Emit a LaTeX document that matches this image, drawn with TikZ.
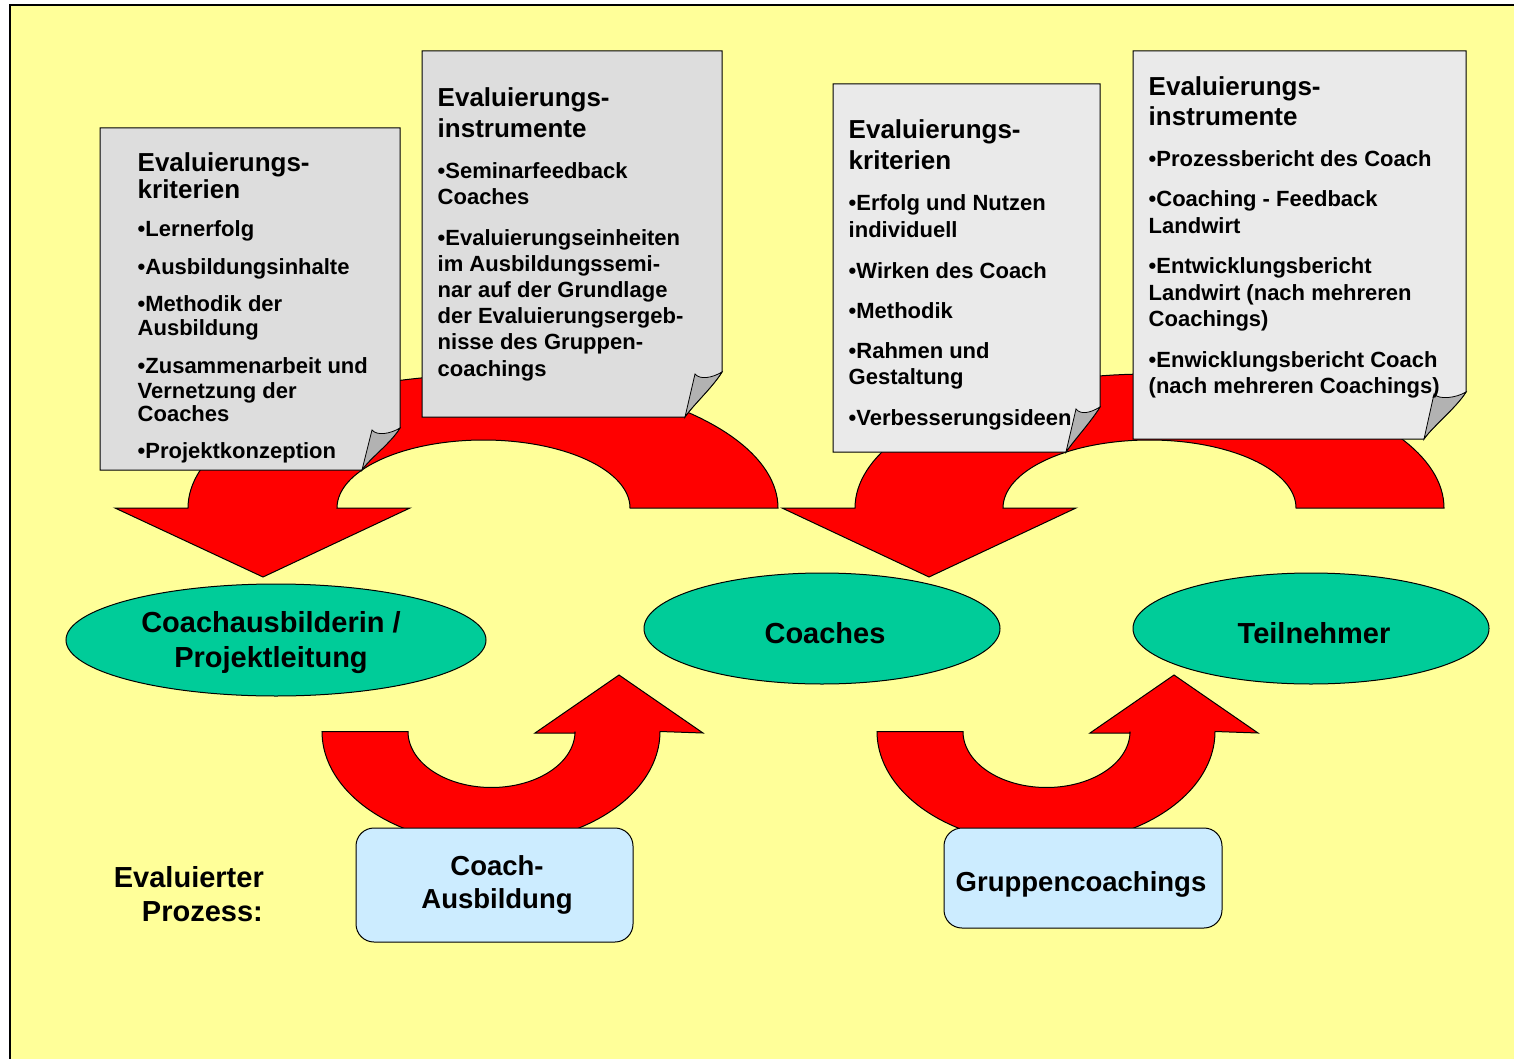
\documentclass[tikz,border=0pt]{standalone}
\usepackage{fontspec}
\setmainfont{Liberation Sans}
\usetikzlibrary{shapes.geometric}
\definecolor{bgyellow}{HTML}{FFFF99}
\definecolor{docgrayA}{HTML}{DDDDDD}
\definecolor{docgrayB}{HTML}{EAEAEA}
\definecolor{curlgray}{HTML}{B2B2B2}
\definecolor{ellgreen}{HTML}{00CC99}
\definecolor{boxblue}{HTML}{CCECFF}
\tikzset{
  redarrow/.style={fill=red, draw=black, line width=1pt, line join=miter},
  docpage/.style={draw=black, line width=1pt},
  curlpart/.style={fill=curlgray, draw=black, line width=0.8pt},
  ellnode/.style={ellipse, draw=black, line width=1pt, fill=ellgreen, inner sep=0pt},
  elltext/.style={font=\bfseries\fontsize{29}{35}\selectfont, inner sep=0pt, align=center},
  pbox/.style={draw=black, line width=1pt, fill=boxblue, rounded corners=18pt,
     font=\bfseries\fontsize{27.5}{33}\selectfont, align=center, inner sep=0pt},
  dtitle/.style={font=\bfseries\fontsize{26}{31}\selectfont, anchor=base west, inner sep=0pt},
  dbul/.style={font=\bfseries\fontsize{22}{26}\selectfont, anchor=base west, inner sep=0pt},
  proctext/.style={font=\bfseries\fontsize{29}{34}\selectfont, anchor=base east, inner sep=0pt}
}
% #1 x1, #2 y1, #3 x2, #4 y2, #5 fold dx, #6 fold dy, #7 colour
\newcommand{\docsheet}[7]{%
  \path[docpage, fill=#7] (#1,#2) -- (#3,#2) -- ({#3},{#4-#6})
     .. controls ({#3-10},{#4-#6+16}) and ({#3-#5+8},{#4-12}) .. ({#3-#5},#4)
     -- (#1,#4) -- cycle;
  \path[curlpart] ({#3-#5+10},{#4-#6+2})
     .. controls ({#3-#5+15},{#4-#6+8}) and ({#3-10},{#4-#6+6}) .. ({#3},{#4-#6})
     .. controls ({#3-10},{#4-#6+16}) and ({#3-#5+8},{#4-12}) .. ({#3-#5},#4) -- cycle;
}
\begin{document}
\begin{tikzpicture}[x=1pt,y=-1pt]
\useasboundingbox (0,0) rectangle (1514,1059);
% background
\fill[bgyellow] (10,5) rectangle (1530,1075);
\draw[line width=2pt] (10,1075) -- (10,5) -- (1530,5);

% upper curved arrows
\draw[redarrow] plot[domain=0:180,samples=90] ({483+295*cos(\x)},{508-133*sin(\x)})
  -- (115,508) -- (263,577) -- (410,508)
  -- plot[domain=180:0,samples=90] ({483.5+146.5*cos(\x)},{508-68*sin(\x)}) -- cycle;
\draw[redarrow] plot[domain=0:180,samples=90] ({1149.5+294.5*cos(\x)},{508-134*sin(\x)})
  -- (782,508) -- (929,577) -- (1076,508)
  -- plot[domain=180:0,samples=90] ({1149.5+146.5*cos(\x)},{508-68*sin(\x)}) -- cycle;

% documents
\docsheet{100}{128}{400}{470}{38}{42}{docgrayA}
\docsheet{422}{51}{722}{417}{37}{45}{docgrayA}
\docsheet{833}{84}{1100}{452}{34}{45}{docgrayB}
\docsheet{1133}{51}{1466}{439}{42}{47}{docgrayB}

% document texts
\foreach \yy/\tt [count=\i] in {171.5/Evaluierungs-, 198.5/kriterien}
  \node[dtitle] (da\i) at (137.5,\yy) {\tt};
\foreach \yy/\tt [count=\i] in {236.3/{•Lernerfolg}, 274/{•Ausbildungsinhalte},
    311.2/{•Methodik der}, 335.5/{Ausbildung}, 373.8/{•Zusammenarbeit und},
    398.5/{Vernetzung der}, 421.5/{Coaches}, 458/{•Projektkonzeption}}
  \node[dbul] (dab\i) at (137.5,\yy) {\tt};

\foreach \yy/\tt [count=\i] in {106.5/Evaluierungs-, 137.5/instrumente}
  \node[dtitle] (db\i) at (437.5,\yy) {\tt};
\foreach \yy/\tt [count=\i] in {178.7/{•Seminarfeedback}, 204.2/{Coaches},
    245.2/{•Evaluierungseinheiten}, 271.5/{im Ausbildungssemi-},
    297.5/{nar auf der Grundlage}, 323.8/{der Evaluierungsergeb-},
    349.8/{nisse des Gruppen-}, 376.5/{coachings}}
  \node[dbul] (dbb\i) at (437.5,\yy) {\tt};

\foreach \yy/\tt [count=\i] in {138.7/Evaluierungs-, 169.5/kriterien}
  \node[dtitle] (dc\i) at (848.5,\yy) {\tt};
\foreach \yy/\tt [count=\i] in {211/{•Erfolg und Nutzen}, 238/{individuell},
    278.3/{•Wirken des Coach}, 318.3/{•Methodik}, 358.3/{•Rahmen und},
    384.5/{Gestaltung}, 425/{•Verbesserungsideen}}
  \node[dbul] (dcb\i) at (848.5,\yy) {\tt};

\foreach \yy/\tt [count=\i] in {96/Evaluierungs-, 126/instrumente}
  \node[dtitle] (dd\i) at (1148.5,\yy) {\tt};
\foreach \yy/\tt [count=\i] in {167/{•Prozessbericht des Coach}, 207/{•Coaching - Feedback},
    233.5/{Landwirt}, 273.5/{•Entwicklungsbericht}, 300/{Landwirt (nach mehreren},
    326.3/{Coachings)}, 367/{•Enwicklungsbericht Coach}, 393.3/{(nach mehreren Coachings)}}
  \node[dbul] (ddb\i) at (1148.5,\yy) {\tt};

% ellipses
\node[ellnode, minimum width=420pt, minimum height=112pt] (e1) at (276,640) {};
\node[ellnode, minimum width=356pt, minimum height=111pt] (e2) at (822,628.5) {};
\node[ellnode, minimum width=356pt, minimum height=111pt] (e3) at (1311,628.5) {};
\node[elltext] (t1) at (271,642.5) {Coachausbilderin /\\Projektleitung};
\node[elltext, anchor=base] (t2) at (825,643) {Coaches};
\node[elltext, anchor=base] (t3) at (1314,643) {Teilnehmer};

% lower curved arrows
\draw[redarrow] plot[domain=180:360,samples=90] ({491+169*cos(\x)},{731.5-113*sin(\x)})
  -- (703,733) -- (619,675) -- (535,733) -- (575,733)
  -- plot[domain=360:180,samples=90] ({491.5+83.5*cos(\x)},{731.5-56*sin(\x)}) -- cycle;
\draw[redarrow] plot[domain=180:360,samples=90] ({1046+169*cos(\x)},{731.5-113*sin(\x)})
  -- (1258,733) -- (1174,675) -- (1090,733) -- (1130,733)
  -- plot[domain=360:180,samples=90] ({1046.5+83.5*cos(\x)},{731.5-56*sin(\x)}) -- cycle;

% process boxes
\node[pbox, minimum width=277pt, minimum height=114pt] (b1) at (494.5,885) {};
\node[pbox, minimum width=278pt, minimum height=100pt] (b2) at (1083,878) {};
\node[font=\bfseries\fontsize{27.5}{33}\selectfont, align=center, inner sep=0pt] (b1t) at (497,884.5) {Coach-\\Ausbildung};
\node[font=\bfseries\fontsize{27.5}{33}\selectfont, anchor=base, inner sep=0pt] (b2t) at (1081,891) {Gruppencoachings};

\node[proctext] (ev1) at (264,887) {Evaluierter};
\node[proctext] (ev2) at (263,921) {Prozess:};
\end{tikzpicture}
\end{document}
